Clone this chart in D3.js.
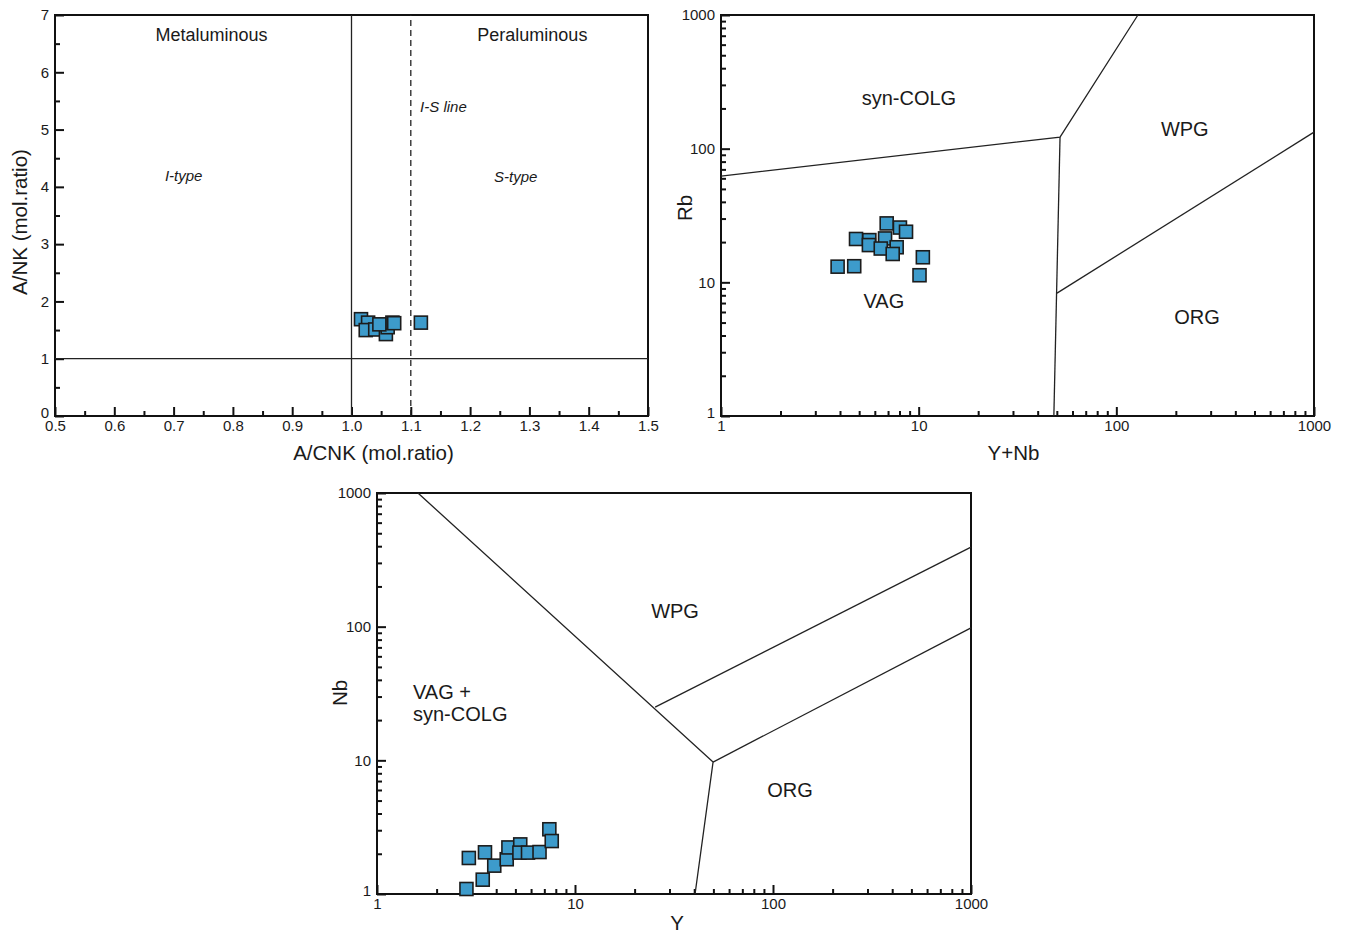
<!DOCTYPE html>
<html>
  <head>
    <meta charset="utf-8" />
    <title>granite discrimination</title>
    <style>
      body { margin: 0; background: #ffffff; }
      text { font-family: "Liberation Sans", Arial, sans-serif; fill: #1a1a1a; }
    </style>
  </head>
  <body>
    <svg width="1346" height="935" id="mainsvg"></svg>
    <script src="https://cdn.jsdelivr.net/npm/d3@7"></script>
    <script>
      // ---- data ----
      // panel A: A/CNK vs A/NK
      const acnk = [1.016, 1.028, 1.024, 1.040, 1.058, 1.061, 1.069, 1.072, 1.047, 1.117];
      const ank = [1.69, 1.63, 1.50, 1.51, 1.43, 1.55, 1.63, 1.62, 1.60, 1.63];
      // panel B: Y+Nb vs Rb
      const yNb = [6.89, 8.04, 8.63, 4.82, 5.63, 5.6, 6.76, 6.43, 7.74, 7.39, 3.89, 4.72, 10.5, 10.1];
      const rb = [27.6, 25.7, 23.9, 21.1, 20.7, 19.0, 21.3, 17.9, 18.3, 16.3, 13.1, 13.2, 15.4, 11.3];
      // panel C: Y vs Nb
      const yVals = [2.91, 3.51, 3.91, 3.42, 2.83, 4.52, 4.61, 5.29, 5.24, 5.79, 6.62, 7.42, 7.63];
      const nbVals = [1.86, 2.05, 1.63, 1.28, 1.09, 1.82, 2.23, 2.35, 2.04, 2.04, 2.06, 3.05, 2.49];

      // boundary lines [ [x,y], ... ]
      const acnkLines = [
        { pts: [[1.0, 0], [1.0, 7]], dash: null },
        { pts: [[0.5, 1], [1.5, 1]], dash: null },
        { pts: [[1.1, 0], [1.1, 7]], dash: "6,4" },
      ];
      const rbLines = [
        [[1, 62.4], [51.9, 122], [128.6, 1000]],
        [[51.9, 122], [48.3, 1]],
        [[50.1, 8.3], [1000, 133]],
      ];
      const nbLines = [
        [[1.61, 1000], [49.8, 9.7], [40.4, 1]],
        [[49.8, 9.7], [1000, 98]],
        [[25.4, 25], [1000, 394]],
      ];

      const acnkXTicks = [0.5, 0.6, 0.7, 0.8, 0.9, 1.0, 1.1, 1.2, 1.3, 1.4, 1.5];
      const ankYTicks = [0, 1, 2, 3, 4, 5, 6, 7];
      const logMajor = [1, 10, 100, 1000];

      const svg = d3.select("#mainsvg");
      const fill = "#3d9bcb";

      function logMinor() {
        const out = [];
        [1, 10, 100].forEach((d) => {
          for (let k = 2; k <= 9; k++) out.push(d * k);
        });
        return out;
      }

      function styleAxis(ag) {
        ag.select(".domain").remove();
        ag.selectAll("line").attr("stroke", "#111").attr("stroke-width", 2);
        ag.selectAll("text").style("font-size", "15px").style("fill", "#1a1a1a")
          .style("font-family", '"Liberation Sans", Arial, sans-serif');
      }

      function panel(cfg) {
        const g = svg.append("g").attr("transform", `translate(${cfg.left}, ${cfg.top})`);
        const x = cfg.x, y = cfg.y;
        const w = x.range()[1], h = y.range()[0];

        // axes, ticks pointing inward
        const xMajor = d3.axisBottom(x).tickValues(cfg.xMajor).tickSize(-9).tickPadding(4).tickFormat(cfg.fmtX);
        const xMinor = d3.axisBottom(x).tickValues(cfg.xMinor).tickSize(-5).tickFormat("");
        const yMajor = d3.axisLeft(y).tickValues(cfg.yMajor).tickSize(-9).tickPadding(6).tickFormat(cfg.fmtY);
        const yMinor = d3.axisLeft(y).tickValues(cfg.yMinor).tickSize(-5).tickFormat("");

        [xMajor, xMinor].forEach((a) => {
          styleAxis(g.append("g").attr("transform", `translate(0, ${h})`).call(a));
        });
        [yMajor, yMinor].forEach((a) => {
          const ag = g.append("g").call(a);
          styleAxis(ag);
          // lift the lowest label a little so it clears the x labels
          ag.selectAll(".tick text").filter((d) => d === cfg.yMajor[0]).attr("dy", "0.1em");
        });

        // frame
        g.append("rect").attr("width", w).attr("height", h)
          .attr("fill", "none").attr("stroke", "#111").attr("stroke-width", 2);

        // boundaries
        const line = d3.line().x((d) => x(d[0])).y((d) => y(d[1]));
        cfg.lines.forEach((l) => {
          g.append("path").datum(l.pts || l).attr("d", line)
            .attr("fill", "none").attr("stroke", "#222").attr("stroke-width", 1.3)
            .attr("stroke-dasharray", l.dash || null);
        });

        // points
        const pts = cfg.xs.map((v, i) => [v, cfg.ys[i]]);
        const s = 13;
        g.selectAll("rect.pt").data(pts).join("rect").attr("class", "pt")
          .attr("x", (d) => x(d[0]) - s / 2).attr("y", (d) => y(d[1]) - s / 2)
          .attr("width", s).attr("height", s)
          .attr("fill", fill).attr("stroke", "#1c1c1c").attr("stroke-width", 1.6);

        // region labels
        cfg.labels.forEach((t) => {
          g.append("text").attr("x", x(t.x)).attr("y", y(t.y)).attr("text-anchor", t.anchor || "middle")
            .attr("dy", "0.35em").style("font-style", t.it ? "italic" : "normal")
            .style("font-size", t.it ? "15px" : (cfg.labelSize || 18) + "px").text(t.text);
        });

        // axis titles
        g.append("text").attr("x", w / 2 + (cfg.xtOff || 0)).attr("y", h + (cfg.xtY || 44)).attr("text-anchor", "middle")
          .style("font-size", "20.5px").text(cfg.xTitle);
        g.append("text").attr("transform", `translate(${cfg.ytX}, ${cfg.ytY}) rotate(-90)`)
          .attr("text-anchor", "middle").attr("dy", "0.35em").style("font-size", "20.5px").text(cfg.yTitle);
      }

      const minorLin = (a, b, step) => d3.range(a, b + 1e-9, step).map((d) => +d.toFixed(3));

      // panel A
      panel({
        left: 55, top: 15,
        x: d3.scaleLinear().domain([0.5, 1.5]).range([0, 593]),
        y: d3.scaleLinear().domain([0, 7]).range([401, 0]),
        xMajor: acnkXTicks, xMinor: minorLin(0.55, 1.45, 0.1),
        yMajor: ankYTicks, yMinor: minorLin(0.5, 6.5, 1),
        fmtX: d3.format(".1f"), fmtY: d3.format("d"),
        lines: acnkLines,
        xs: acnk, ys: ank,
        labels: [
          { x: 0.764, y: 6.65, text: "Metaluminous" },
          { x: 1.305, y: 6.65, text: "Peraluminous" },
          { x: 1.155, y: 5.4, text: "I-S line", it: true },
          { x: 0.717, y: 4.2, text: "I-type", it: true },
          { x: 1.277, y: 4.17, text: "S-type", it: true },
        ],
        xTitle: "A/CNK (mol.ratio)", xtOff: 22,
        yTitle: "A/NK (mol.ratio)", ytX: -35, ytY: 207,
      });

      // panel B
      panel({
        left: 721, top: 15,
        x: d3.scaleLog().domain([1, 1000]).range([0, 593]),
        y: d3.scaleLog().domain([1, 1000]).range([401, 0]),
        xMajor: logMajor, xMinor: logMinor(),
        yMajor: logMajor, yMinor: logMinor(),
        fmtX: d3.format("d"), fmtY: d3.format("d"),
        lines: rbLines,
        xs: yNb, ys: rb,
        labelSize: 20,
        labels: [
          { x: 8.93, y: 239, text: "syn-COLG" },
          { x: 222, y: 140, text: "WPG" },
          { x: 6.67, y: 7.25, text: "VAG" },
          { x: 256, y: 5.5, text: "ORG" },
        ],
        xTitle: "Y+Nb", xtOff: -4,
        yTitle: "Rb", ytX: -36, ytY: 193,
      });

      // panel C
      panel({
        left: 377, top: 493,
        x: d3.scaleLog().domain([1, 1000]).range([0, 594]),
        y: d3.scaleLog().domain([1, 1000]).range([401, 0]),
        xMajor: logMajor, xMinor: logMinor(),
        yMajor: logMajor, yMinor: logMinor(),
        fmtX: d3.format("d"), fmtY: d3.format("d"),
        lines: nbLines,
        xs: yVals, ys: nbVals,
        labelSize: 20,
        labels: [
          { x: 32, y: 131, text: "WPG" },
          { x: 1.52, y: 32.4, text: "VAG +", anchor: "start" },
          { x: 1.52, y: 22.2, text: "syn-COLG", anchor: "start" },
          { x: 122, y: 6.0, text: "ORG" },
        ],
        xTitle: "Y", xtOff: 3, xtY: 36,
        yTitle: "Nb", ytX: -37, ytY: 200,
      });
    </script>
  </body>
</html>
